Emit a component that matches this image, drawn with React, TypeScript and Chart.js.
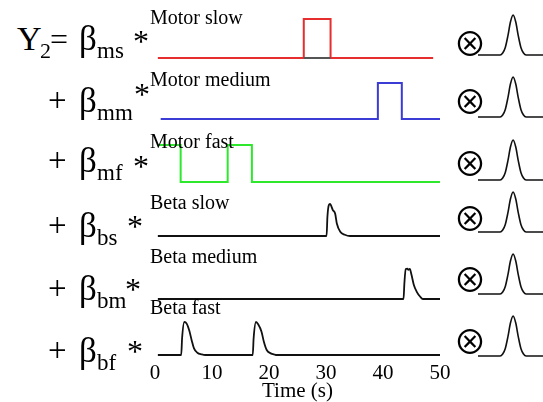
import React, { useEffect, useRef } from "react";
import { Chart, registerables } from "chart.js";

Chart.register(...registerables);

// ---------- data ----------
const timeTicks = [0, 10, 20, 30, 40, 50];

const motorSlowT = [0.5, 26.1, 26.1, 30.8, 30.8, 48.8];
const motorSlowV = [0, 0, 1, 1, 0, 0];
const motorSlowBaseT = [26.1, 30.8];
const motorSlowBaseV = [0, 0];

const motorMediumT = [1, 39.1, 39.1, 43.3, 43.3, 50];
const motorMediumV = [0, 0, 1, 1, 0, 0];

const motorFastT = [0.5, 4.5, 4.5, 12.75, 12.75, 17.0, 17.0, 50];
const motorFastV = [1, 1, 0, 0, 1, 1, 0, 0];

const betaSlowT = [0.5, 30.1, 30.25, 30.5, 30.7, 31.2, 31.6, 31.9, 32.5, 33.3, 34.2, 50];
const betaSlowV = [0, 0, 0.6, 0.97, 1, 0.81, 0.7, 0.39, 0.13, 0.04, 0, 0];

const betaMediumT = [0.5, 43.6, 43.75, 43.98, 44.27, 44.45, 44.7, 45.0, 45.4, 45.9, 46.5, 47.0, 50];
const betaMediumV = [0, 0, 0.5, 0.97, 0.98, 0.94, 0.97, 0.78, 0.46, 0.24, 0.08, 0, 0];

const betaFastT = [0.5, 4.6, 4.75, 5.15, 5.56, 6.0, 6.43, 6.84, 7.43, 8.2, 8.8, 17.15, 17.3, 17.72, 18.1, 18.7, 19.1, 19.6, 20.3, 21.05, 21.3, 50];
const betaFastV = [0, 0, 0.5, 1, 0.95, 0.75, 0.45, 0.2, 0.07, 0.02, 0, 0, 0.5, 1, 0.93, 0.7, 0.4, 0.15, 0.05, 0.01, 0, 0];

const hrfT = [0, 8.5, 9.5, 10.5, 11.5, 12.5, 13.5, 14.5, 15.5, 16.5, 17.5, 18.5, 25];
const hrfV = [0, 0, 0.05, 0.19, 0.48, 0.83, 1, 0.83, 0.48, 0.19, 0.05, 0, 0];

const rowLabels = ["Motor slow", "Motor medium", "Motor fast", "Beta slow", "Beta medium", "Beta fast"];
const betaSubs = ["ms", "mm", "mf", "bs", "bm", "bf"];
const axisTitle = "Time (s)";

// ---------- styles / layout ----------
const SERIF = "'Liberation Serif', 'Times New Roman', Times, serif";
const RED = "#e62e2e";
const BLUE = "#3b3bd6";
const GREEN = "#2ee82e";
const BLACK = "#111111";

type Series = { t: number[]; v: number[]; color: string; width: number; smooth?: boolean };

type PanelProps = {
  left: number;
  top: number;
  width: number;
  height: number;
  pad: { left: number; right: number; top: number; bottom: number };
  series: Series[];
  xMax: number;
  axis?: boolean;
  axisHeight?: number;
};

function Panel(props: PanelProps) {
  const ref = useRef<HTMLCanvasElement | null>(null);
  useEffect(() => {
    const { series, pad, xMax, axis, axisHeight } = props;
    const chart = new Chart(ref.current as HTMLCanvasElement, {
      type: "line",
      data: {
        datasets: series.map((s) => ({
          data: s.t.map((x, i) => ({ x, y: s.v[i] })),
          borderColor: s.color,
          backgroundColor: s.color,
          borderWidth: s.width,
          pointRadius: 0,
          fill: false,
          clip: false as any,
          tension: s.smooth ? 0.4 : 0,
          cubicInterpolationMode: s.smooth ? "monotone" : "default",
          borderJoinStyle: "miter",
        })) as any,
      },
      options: {
        animation: false,
        responsive: false,
        events: [],
        layout: { padding: pad },
        plugins: { legend: { display: false }, tooltip: { enabled: false } },
        scales: {
          x: {
            type: "linear",
            min: 0,
            max: xMax,
            display: !!axis,
            grid: { display: false, drawTicks: false },
            border: { display: false },
            afterBuildTicks: (s: any) => {
              s.ticks = timeTicks.map((v) => ({ value: v }));
            },
            afterFit: (s: any) => {
              if (axisHeight) s.height = axisHeight;
            },
            ticks: {
              color: "#000",
              padding: 6,
              maxRotation: 0,
              autoSkip: false,
              font: { family: SERIF, size: 21 },
              callback: (v: any) => String(v),
            },
            title: {
              display: true,
              text: axisTitle,
              color: "#000",
              padding: 0,
              font: { family: SERIF, size: 21, lineHeight: 1 },
            },
          },
          y: { type: "linear", min: 0, max: 1, display: false },
        },
      },
    });
    return () => chart.destroy();
  }, []);
  return (
    <canvas
      ref={ref}
      width={props.width}
      height={props.height}
      style={{ position: "absolute", left: props.left, top: props.top, width: props.width, height: props.height }}
    />
  );
}

function Txt(p: { x: number; baseline: number; size: number; text: string; family?: string }) {
  return (
    <span
      style={{
        position: "absolute",
        left: p.x,
        top: p.baseline - 0.8375 * p.size,
        fontSize: p.size,
        lineHeight: 1,
        fontFamily: p.family || SERIF,
        color: "#000",
        whiteSpace: "nowrap",
      }}
    >
      {p.text}
    </span>
  );
}

// main rows: pulse top pixel and baseline pixel
const mainRows = [
  { top: 19, base: 58 },
  { top: 83, base: 119 },
  { top: 145, base: 182 },
  { top: 204, base: 236 },
  { top: 268, base: 299 },
  { top: 322, base: 355 },
];
const labelBaselines = [24, 86, 148, 209, 263, 314];
const hrfBases = [55, 117, 180, 232, 294, 356];
const otimesY = [42, 100, 162, 217, 278, 340];
const formulaRows = [
  { base: 50, star: 133, starTop: 30 },
  { base: 112, star: 134, starTop: 83 },
  { base: 172, star: 133, starTop: 155 },
  { base: 237, star: 127, starTop: 215 },
  { base: 300, star: 125, starTop: 278 },
  { base: 362, star: 127, starTop: 340 },
];

const rowSeries: Series[][] = [
  [
    { t: motorSlowBaseT, v: motorSlowBaseV, color: "#555555", width: 2 },
    { t: motorSlowT, v: motorSlowV, color: RED, width: 2 },
  ],
  [{ t: motorMediumT, v: motorMediumV, color: BLUE, width: 2 }],
  [{ t: motorFastT, v: motorFastV, color: GREEN, width: 2 }],
  [{ t: betaSlowT, v: betaSlowV, color: BLACK, width: 1.8, smooth: true }],
  [{ t: betaMediumT, v: betaMediumV, color: BLACK, width: 1.8, smooth: true }],
  [{ t: betaFastT, v: betaFastV, color: BLACK, width: 1.8, smooth: true }],
];

export default function App() {
  const PAD = 8;
  return (
    <div
      style={{
        position: "fixed",
        left: 0,
        top: 0,
        width: 543,
        height: 402,
        overflow: "hidden",
        background: "#fff",
      }}
    >
      {mainRows.map((r, i) => {
        const last = i === mainRows.length - 1;
        const top = r.top - PAD;
        const height = last ? 402 - top : r.base - r.top + 2 * PAD;
        return (
          <Panel
            key={"m" + i}
            left={135}
            top={top}
            width={330}
            height={height}
            pad={{ left: 20, right: 25, top: PAD, bottom: last ? 0 : PAD }}
            series={rowSeries[i]}
            xMax={50}
            axis={last}
            axisHeight={last ? 402 - r.base : undefined}
          />
        );
      })}
      {hrfBases.map((b, i) => (
        <Panel
          key={"h" + i}
          left={470}
          top={b - 40 - 6}
          width={73}
          height={52}
          pad={{ left: 8, right: 0, top: 6, bottom: 6 }}
          series={[{ t: hrfT, v: hrfV, color: BLACK, width: 1.6, smooth: true }]}
          xMax={25}
        />
      ))}
      {rowLabels.map((l, i) => (
        <Txt key={"l" + i} x={150} baseline={labelBaselines[i]} size={20} text={l} />
      ))}
      {otimesY.map((y, i) => (
        <div
          key={"o" + i}
          style={{
            position: "absolute",
            left: 470 - 25,
            top: y - 25,
            width: 50,
            height: 50,
            display: "flex",
            alignItems: "center",
            justifyContent: "center",
            fontFamily: "'Noto Sans CJK JP', 'DejaVu Sans', sans-serif",
            fontSize: 33,
            lineHeight: 1,
            color: "#000",
          }}
        >
          ⊗
        </div>
      ))}
      {/* formula */}
      <Txt x={17} baseline={50} size={34} text="Y" />
      <Txt x={40} baseline={58} size={22} text="2" />
      <Txt x={50} baseline={50} size={32} text="=" />
      {formulaRows.map((f, i) => (
        <React.Fragment key={"f" + i}>
          {i > 0 && <Txt x={48} baseline={f.base} size={33} text="+" />}
          <Txt x={79} baseline={f.base} size={35} text="β" />
          <Txt x={97} baseline={f.base + 8} size={23} text={betaSubs[i]} />
          <Txt x={f.star} baseline={f.starTop + 22} size={32} text="*" />
        </React.Fragment>
      ))}
    </div>
  );
}
